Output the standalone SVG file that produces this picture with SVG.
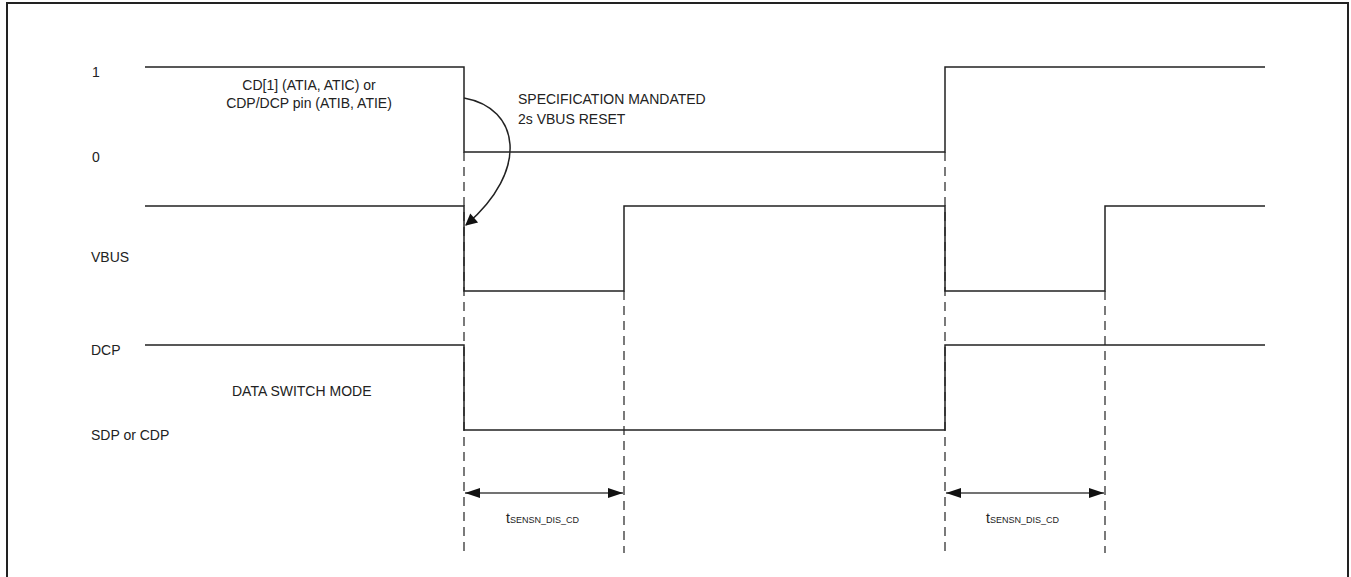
<svg xmlns="http://www.w3.org/2000/svg" width="1351" height="577" viewBox="0 0 1351 577">
<defs>
<style>
.sig{fill:none;stroke:#222;stroke-width:1.5}
.dash{fill:none;stroke:#222;stroke-width:1.2;stroke-dasharray:9,6}
.lbl{font-family:"Liberation Sans",Arial,sans-serif;font-size:14px;fill:#222}
.sub{font-size:9px}
.dim{fill:none;stroke:#444;stroke-width:1.5}
</style>
<marker id="ah" viewBox="0 0 15 10" refX="15" refY="5" markerWidth="15" markerHeight="10" orient="auto-start-reverse" markerUnits="userSpaceOnUse">
<path d="M0,0 L15,5 L0,10 z" fill="#111"/>
</marker>
<marker id="ah2" viewBox="0 0 10 10" refX="9" refY="5" markerWidth="15" markerHeight="12" orient="auto" markerUnits="userSpaceOnUse">
<path d="M0,0 L10,5 L0,10 z" fill="#111"/>
</marker>
</defs>
<rect x="7" y="3" width="1341" height="590" fill="#fff" stroke="#222" stroke-width="2"/>
<g id="labels">
<text class="lbl" x="92" y="77">1</text>
<text class="lbl" x="92" y="162">0</text>
<text class="lbl" x="91" y="262">VBUS</text>
<text class="lbl" x="91" y="355">DCP</text>
<text class="lbl" x="91" y="440">SDP or CDP</text>
</g>
<g id="sig-cd">
<path class="sig" d="M145,67 H464 V152 H945 V67 H1265"/>
<text class="lbl" x="309" y="90" text-anchor="middle">CD[1] (ATIA, ATIC) or</text>
<text class="lbl" x="309" y="108" text-anchor="middle">CDP/DCP pin (ATIB, ATIE)</text>
</g>
<g id="sig-vbus">
<path class="sig" d="M145,206 H464 V291 H624 V206 H945 V291 H1105 V206 H1265"/>
</g>
<g id="sig-dcp">
<path class="sig" d="M145,345 H464 V430 H945 V345 H1265"/>
<text class="lbl" x="232" y="396">DATA SWITCH MODE</text>
</g>
<g id="annotation">
<text class="lbl" x="518" y="104">SPECIFICATION MANDATED</text>
<text class="lbl" x="518" y="124">2s VBUS RESET</text>
</g>
<g id="connectors">
<line class="dash" x1="464" y1="152" x2="464" y2="553"/>
<line class="dash" x1="624" y1="291" x2="624" y2="553"/>
<line class="dash" x1="945" y1="152" x2="945" y2="553"/>
<line class="dash" x1="1105" y1="291" x2="1105" y2="553"/>
<path class="sig" d="M464,98 C520,108 530,170 466,225" marker-end="url(#ah2)" stroke-width="1.2"/>
<line class="dim" x1="465" y1="493" x2="623" y2="493" marker-start="url(#ah)" marker-end="url(#ah)"/>
<line class="dim" x1="946" y1="493" x2="1104" y2="493" marker-start="url(#ah)" marker-end="url(#ah)"/>
<text class="lbl" x="506" y="523">t<tspan class="sub">SENSN_DIS_CD</tspan></text>
<text class="lbl" x="986" y="523">t<tspan class="sub">SENSN_DIS_CD</tspan></text>
</g>
</svg>
